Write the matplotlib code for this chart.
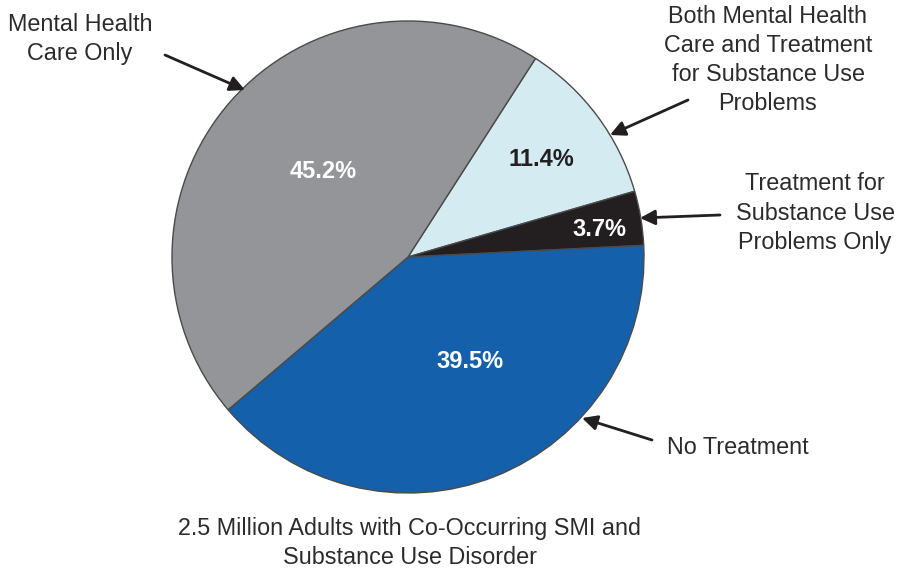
import matplotlib.pyplot as plt

plt.rcParams['font.family'] = ['Liberation Sans', 'DejaVu Sans']

# Slices in clockwise order starting at the top-right edge
shares = [11.4, 3.7, 39.5, 45.2]
pct_labels = ['11.4%', '3.7%', '39.5%', '45.2%']
slice_colors = ['#d5ebf2', '#231f20', '#1560aa', '#939598']
pct_colors = ['#231f20', 'white', 'white', 'white']
category_names = [
    'Both Mental Health\nCare and Treatment\nfor Substance Use\nProblems',
    'Treatment for\nSubstance Use\nProblems Only',
    'No Treatment',
    'Mental Health\nCare Only',
]
caption = '2.5 Million Adults with Co-Occurring SMI and\nSubstance Use Disorder'

W, H = 900, 575
fig = plt.figure(figsize=(9, 5.75), dpi=100)
ax = fig.add_axes([0, 0, 1, 1])


def px(x, y):
    # pixel position (origin top-left) to data coordinates
    return x, H - y


cx, cy = px(408, 257)
wedges, _ = ax.pie(shares, colors=slice_colors, startangle=57.3, counterclock=False,
                   center=(cx, cy), radius=236, frame=True,
                   wedgeprops=dict(edgecolor='#4a4a4a', linewidth=1.0))
ax.set_xlim(0, W)
ax.set_ylim(0, H)
ax.set_aspect('equal')
ax.axis('off')

# percentage labels inside the slices
pct_pos = [(541, 160), (599, 230), (470, 362), (323, 171)]
for lab, col, (x, y) in zip(pct_labels, pct_colors, pct_pos):
    ax.text(*px(x, y), lab, color=col, fontsize=17, fontweight='bold',
            ha='center', va='center')

# category labels with arrows pointing at the slices
text_pos = [(768, 60), (815, 213), (667, 447), (80, 39)]
text_ha = ['center', 'center', 'left', 'center']
arrow_tails = [(688, 100), (720, 215), (652, 440), (165, 55)]
arrow_heads = [(610, 135), (640, 218), (582, 418), (245, 90)]
arrow_kw = dict(arrowstyle='-|>,head_length=0.9,head_width=0.45',
                color='#231f20', lw=2, shrinkA=0, shrinkB=0)
for name, (tx, ty), ha, tail, head in zip(category_names, text_pos, text_ha,
                                          arrow_tails, arrow_heads):
    ax.text(*px(tx, ty), name, fontsize=16.8, color='#2b2b2b', ha=ha, va='center',
            multialignment='center', linespacing=1.35)
    ax.annotate('', xy=px(*head), xytext=px(*tail), arrowprops=arrow_kw)

ax.text(*px(410, 543), caption, fontsize=16.8, color='#2b2b2b', ha='center',
        va='center', multialignment='center', linespacing=1.35)

fig.savefig('out.png', dpi=100, facecolor='white')
